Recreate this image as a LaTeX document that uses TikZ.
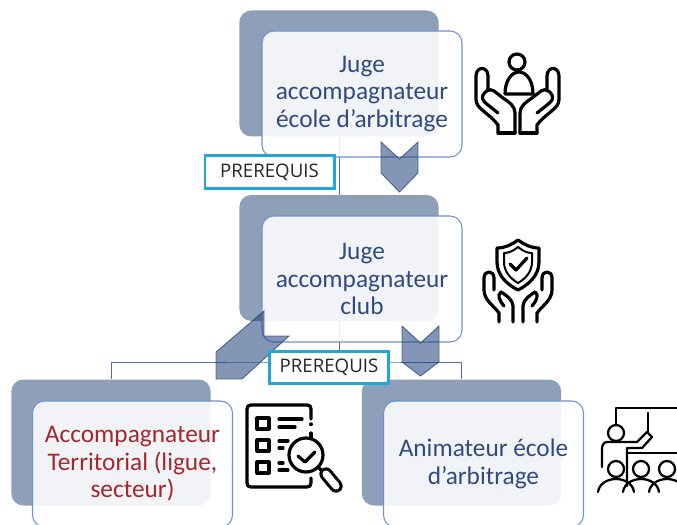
\documentclass[tikz,border=0pt]{standalone}
\usepackage{fontspec}
\setmainfont{Carlito}
\newfontfamily\tagfont{Open Sans}
\definecolor{backblue}{HTML}{8E9FBA}
\definecolor{edgeblue}{HTML}{6F92D2}
\definecolor{linkblue}{HTML}{4A6FB5}
\definecolor{textblue}{HTML}{2F4B80}
\definecolor{textred}{HTML}{A5282C}
\definecolor{chevblue}{HTML}{1F3F78}
\definecolor{tagcyan}{HTML}{1FA7D9}
\tikzset{
  backbox/.style={fill=backblue, rounded corners=9pt, minimum width=149.5pt, minimum height=94.5pt, inner sep=0pt},
  cardbox/.style={draw=edgeblue, fill=white, fill opacity=0.88, text opacity=1, line width=0.8pt, rounded corners=9pt, minimum width=150pt, minimum height=94.5pt, align=center, inner sep=0pt, font=\fontsize{19}{20.6}\selectfont},
  tagbox/.style={draw=tagcyan, fill=white, line width=2pt, inner sep=0pt, font=\tagfont\fontsize{14}{15}\selectfont, text=black!85},
  link/.style={draw=linkblue, line width=0.7pt},
  chev/.style={draw=chevblue, fill=chevblue, fill opacity=0.55, draw opacity=0.7, line width=0.7pt},
  icon/.style={draw=black, line width=2.4pt, line cap=round, line join=round},
  thinicon/.style={icon, line width=1.7pt}
}
\newcommand{\drawback}[3]{\node[backbox] (back#1) at (#2,#3) {};}
\newcommand{\drawcard}[5]{\node[cardbox, text=#4] (card#1) at (#2,#3) {#5};}
\newcommand{\drawchevron}[3]{\draw[chev] (#1-18.5,#2) -- (#1,#2+17) -- (#1+18.5,#2) -- (#1+18.5,#2+#3) -- (#1,#2+50) -- (#1-18.5,#2+#3) -- cycle;}
\newcommand{\drawhandone}{
  \draw[icon] (21,80) -- (21,72) .. controls (15,64) and (8,60) .. (3,55) .. controls (-1,51) and (-1,48) .. (-1,44) -- (-1,23) .. controls (-1,13) and (11,13) .. (11,23) -- (11,37);
  \draw[icon] (38,80) -- (38,60) .. controls (38,53) and (32,49) .. (26,45) -- (17,38) .. controls (13,35) and (8,38) .. (6,42) .. controls (4,46) and (7,49) .. (11,52) -- (21,60);
  \draw[icon] (21,80) -- (38,80);
}
\newcommand{\drawhandtwo}{
  \draw[icon] (15,82) -- (15,73) .. controls (10,66) and (0,60) .. (0,50) -- (0,38) .. controls (0,30) and (10,30) .. (10,38) -- (10,50);
  \draw[icon] (29,82) -- (29,66) .. controls (29,60) and (22,55) .. (17,52);
  \draw[icon] (17,52) .. controls (13,55) and (15,60) .. (20,66);
}
\newcommand{\drawrow}[4]{
  \draw[icon] (257,#1) rectangle (269,#1+11);
  \draw[icon] (279,#1+1) -- (#2,#1+1);
  \draw[icon] (279,#1+#4) -- (#3,#1+#4);
}
\newcommand{\drawstudent}[1]{
  \draw[thinicon] (#1,469) circle (8);
  \draw[thinicon] (#1-18,492) .. controls (#1-17,484) and (#1-9,479) .. (#1,479) .. controls (#1+9,479) and (#1+17,484) .. (#1+18,492);
}
\begin{document}
\begin{tikzpicture}[x=0.75pt,y=-0.75pt]
  \clip (0,0) rectangle (677,524);
  % back panels
  \drawback{A}{339}{73.5}
  \drawback{B}{339}{258}
  \drawback{C}{111}{442.5}
  \drawback{D}{461.5}{442.5}
  % links
  \coordinate (fork) at (339,362);
  \draw[link] (backA.south) -- (backB.north);
  \draw[link] (backB.south) -- (fork);
  \draw[link] (backC.north) |- (fork) -| (backD.north);
  % cards
  \drawcard{A}{362}{94}{textblue}{Juge\\accompagnateur\\école d’arbitrage}
  \drawcard{B}{362}{279}{textblue}{Juge\\accompagnateur\\club}
  \drawcard{C}{132.5}{464}{textred}{Accompagnateur\\Territorial (ligue,\\secteur)}
  \drawcard{D}{483.5}{464}{textblue}{Animateur école\\d’arbitrage}
  % arrows
  \drawchevron{399.5}{142}{31}
  \drawchevron{420.5}{326}{36}
  \draw[chev] (264,311) -- (264,336) -- (289,336) -- (242,379) -- (216,379) -- (216,352) -- cycle;
  % tags
  \node[tagbox, minimum width=97pt, minimum height=24.5pt] (tagA) at (269.5,172) {PREREQUIS};
  \node[tagbox, minimum width=89pt, minimum height=24pt] (tagB) at (329,367.5) {PREREQUIS};
  % icon top
  \draw[icon] (517,62) circle (8);
  \draw[icon] (505,94) -- (533,94) .. controls (533,80) and (526,72) .. (519,72) .. controls (512,72) and (505,80) .. (505,94);
  \begin{scope}[shift={(477,53)}]
    \drawhandone
  \end{scope}
  \begin{scope}[shift={(558,53)}, xscale=-1]
    \drawhandone
  \end{scope}
  % icon club
  \draw[icon] (518,240) .. controls (511,245) and (505,248) .. (497,248) -- (497,262) .. controls (497,276) and (508,285) .. (518,290) .. controls (528,285) and (539,276) .. (539,262) -- (539,248) .. controls (531,248) and (525,245) .. (518,240);
  \draw[icon, line width=1.5pt] (518,247) .. controls (513,251) and (509,253) .. (504,253) -- (504,262) .. controls (504,272) and (511,279) .. (518,283) .. controls (525,279) and (532,272) .. (532,262) -- (532,253) .. controls (527,253) and (523,251) .. (518,247);
  \draw[icon] (510,264) -- (516,270) -- (527,258);
  \begin{scope}[shift={(484,240)}]
    \drawhandtwo
  \end{scope}
  \begin{scope}[shift={(552,240)}, xscale=-1]
    \drawhandtwo
  \end{scope}
  % icon checklist
  \draw[icon] (311,419) -- (311,409) -- (310,406) -- (307,405) -- (251,405) -- (248,406) -- (247,409) -- (247,483) -- (248,486) -- (251,487) -- (307,487) -- (310,486) -- (311,483) -- (311,478);
  \draw[icon] (311,424) -- (311,424.5);
  \draw[icon] (311,433) -- (311,437);
  \drawrow{418}{302}{295}{9}
  \drawrow{440}{288}{283}{8}
  \drawrow{462}{283}{288}{8}
  \draw[icon, fill=white] (306,455) circle (17);
  \draw[icon] (298,456) -- (305,462) -- (315,452);
  \draw[icon] (318,467) -- (322,471);
  \draw[icon, line width=10pt] (326,474) -- (336,486);
  \draw[icon, draw=white, line width=5.4pt] (326,474) -- (336,486);
  % icon teacher
  \draw[thinicon] (616,425) -- (616,408) -- (680,408);
  \draw[thinicon] (648,413) -- (648,432);
  \draw[thinicon] (627,453) -- (680,453);
  \draw[thinicon] (616,433) circle (8);
  \draw[thinicon] (627,486) -- (627,448) -- (642,448) -- (652,437) -- (647,432) -- (637,442) -- (607,442) .. controls (604,442) and (602,445) .. (602,449) -- (602,467);
  \drawstudent{616}
  \drawstudent{641}
  \drawstudent{667}
\end{tikzpicture}
\end{document}
